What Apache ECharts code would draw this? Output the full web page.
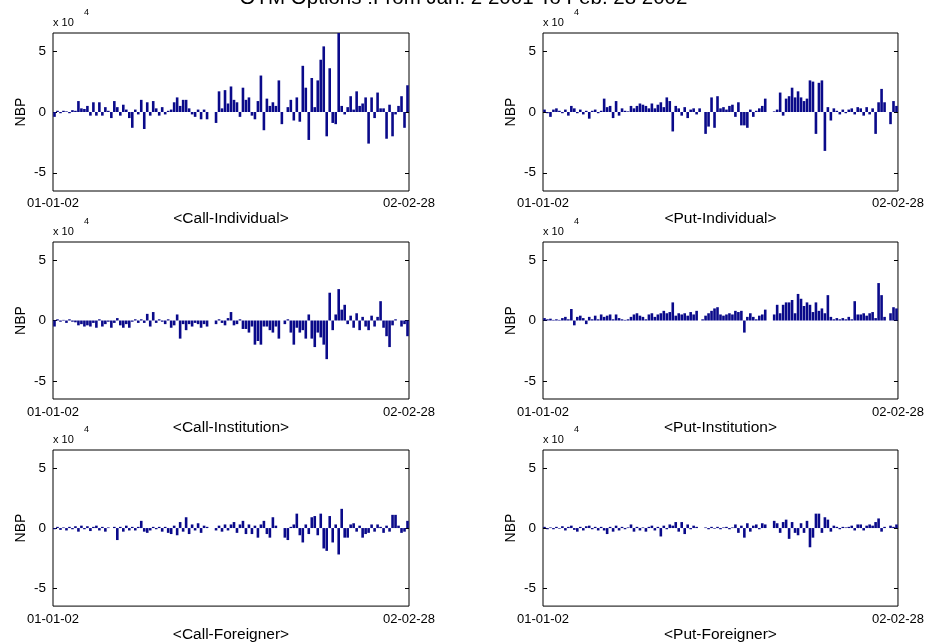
<!DOCTYPE html>
<html><head><meta charset="utf-8">
<script src="https://cdn.jsdelivr.net/npm/echarts@6/dist/echarts.min.js"></script>
<style>html,body{margin:0;padding:0;background:#fff}#c{width:927px;height:644px}</style>
</head><body><div id="c"></div>
<script>
const chartTitle = 'OTM Options :From Jan. 2 2001 To Feb. 28 2002';
const panelNames = ['<Call-Individual>', '<Put-Individual>', '<Call-Institution>', '<Put-Institution>', '<Call-Foreigner>', '<Put-Foreigner>'];
const yAxisName = 'NBP';
const xTickLabels = ['01-01-02', '02-02-28'];
const yTickValues = [-5, 0, 5];
const yScaleBase = 'x 10';
const yScaleExp = '4';

// values in units of 10^4
const callIndividual = [
-0.4,0.1,-0.1,0.1,0.05,-0.1,0.15,0.1,0.9,0.3,
0.25,0.5,-0.3,0.8,-0.3,0.8,-0.3,0.4,0.1,-0.5,
0.9,0.4,-0.3,0.6,0.2,-0.5,-1.3,0.2,-0.2,1.0,
-1.4,0.8,-0.3,0.9,0.3,-0.3,0.4,-0.2,0.1,0.2,
0.8,1.2,0.5,1.0,1.0,0.3,-0.2,-0.4,0.2,-0.6,
0.2,-0.6,0,0,-0.9,1.7,0.3,1.8,0.7,2.1,
1.0,0.8,-0.4,2.0,1.0,1.2,-0.3,-0.6,0.9,3.0,
-1.5,1.1,0.5,0.8,0.5,2.6,-1.0,0,0.4,1.0,
-0.7,1.2,-0.8,3.8,2.0,-2.3,2.8,0.4,2.6,4.3,
5.4,-2.0,3.6,-0.9,-1.0,6.5,0.5,-0.2,0.4,1.3,
0.2,1.7,0.5,0.7,1.2,-2.6,1.2,-0.5,1.6,0.3,
0.3,-2.2,0.6,-2.0,-0.2,0.5,1.3,-1.3,2.2];
const putIndividual = [
0.2,-0.1,-0.4,0.2,0.3,0.1,-0.1,0.2,-0.3,0.5,
0.3,-0.1,0.2,-0.2,0.1,-0.55,0.1,0.2,-0.1,0.1,
1.1,0.4,0.5,-0.5,0.9,-0.3,0.3,0.1,0.05,0.5,
0.3,0.5,0.7,0.6,0.5,0.3,0.7,0.3,0.6,0.8,
0.4,1.2,0.9,-1.6,0.5,0.3,-0.3,0.4,-0.5,0.2,
0.3,-0.2,0.3,0,-1.8,-1.2,1.2,-1.3,1.3,0.3,
0.4,0.2,0.5,0.6,-0.4,0.8,-1.1,-1.1,-1.3,0.2,
-0.4,0.1,0.3,0.5,1.1,0,0,0.05,0.2,1.6,
-0.3,1.1,1.3,2.0,1.2,1.7,1.2,0.9,1.1,2.6,
2.5,-1.8,2.4,2.6,-3.2,0.4,-0.7,0.3,0.1,-0.2,
0.2,-0.1,0.2,0.3,-0.2,0.4,0.3,-0.3,0.4,-0.2,
0.3,-1.8,0.8,1.9,0.8,0,-1.0,0.9,0.5];
const callInstitution = [
-0.5,0.1,-0.1,0.05,-0.2,0.1,-0.1,-0.15,-0.4,-0.3,
-0.5,-0.4,-0.5,-0.2,-0.6,0.1,-0.5,-0.3,-0.1,-0.6,
-0.2,0.2,-0.4,-0.6,-0.3,-0.6,-0.1,0.1,-0.2,0.1,
-0.2,0.55,-0.5,0.7,-0.2,0.1,-0.1,-0.3,0.1,-0.6,
-0.4,0.5,-1.5,-0.3,-0.8,-0.3,-0.5,-0.2,-0.3,-0.6,
-0.3,-0.5,0,0,-0.3,0.1,-0.2,-0.4,0.2,0.7,
-0.4,-0.3,0.1,-0.7,-0.7,-1.0,-0.5,-2.0,-1.7,-2.0,
-0.5,-0.5,-0.8,-1.0,-0.5,-1.5,0,-0.3,0.1,-1.0,
-2.0,-0.6,-1.0,-0.8,-1.5,0.5,-1.5,-2.2,-1.0,-1.4,
-2.0,-3.2,2.3,-0.8,0.5,2.6,0.9,1.3,-0.3,0.4,
-0.6,0.6,-0.8,0.3,-0.5,-0.8,0.4,-0.5,0.3,1.6,
-0.6,-1.3,-2.2,-0.4,0.1,0,-0.5,-0.3,-1.3];
const putInstitution = [
0.2,0.1,0.15,0.05,0.1,0.05,0.2,0.3,0.1,0.95,
-0.4,0.3,0.4,0.2,-0.3,0.3,0.1,0.4,0.1,0.5,
0.3,0.4,0.5,0.1,0.5,0.2,0.1,0.05,0.1,0.3,
0.5,0.6,0.4,0.3,0.1,0.5,0.6,0.3,0.5,0.6,
0.8,0.6,0.7,1.5,0.4,0.6,0.5,0.6,0.4,0.7,
0.5,0.8,0,0.1,0.4,0.6,0.8,1.0,1.1,0.5,
0.4,0.5,0.6,0.5,0.8,0.7,0.8,-1.0,0.3,0.6,
0.3,0.1,0.4,0.5,0.9,0,0,0.5,1.3,0.6,
1.3,1.5,1.5,1.7,0.6,2.2,1.8,1.2,1.5,1.3,
0.7,1.5,0.8,1.0,0.6,2.1,0.3,0.1,0.2,0.1,
0.2,0.1,0.3,0.1,1.6,0.5,0.5,0.6,0.4,0.6,
0.7,0.2,3.1,2.1,0.3,0,0.6,1.1,1.0];
const callForeigner = [
-0.1,0.1,-0.15,0.05,-0.2,0.1,-0.1,0.15,-0.3,0.2,
-0.1,0.15,-0.25,0.1,0.2,-0.2,0.1,-0.3,0.05,0,
0.1,-1.0,0.1,-0.3,0.2,-0.2,0.1,-0.2,0.1,0.6,
-0.3,-0.4,-0.2,0.1,-0.1,0.1,-0.3,0.1,-0.4,-0.5,
0.2,-0.6,0.5,-0.3,0.9,-0.5,0.3,-0.2,0.4,-0.4,
0.2,0.1,0,0,-0.2,0.2,-0.3,0.3,-0.2,0.3,
0.5,-0.4,0.3,0.6,-0.5,0.3,-0.5,0.2,-0.8,0.3,
0.6,-0.5,-0.8,0.9,0.2,0,0,-0.8,-1.0,0.1,
0.3,1.2,-0.6,-1.2,0.3,-0.5,0.9,1.0,-0.6,1.2,
-1.7,-1.9,1.0,-1.2,0.3,-2.2,1.6,-0.8,-0.8,0.3,
0.4,-0.3,0.2,-0.8,-0.5,-0.4,0.3,-0.3,0.3,0.1,
-0.4,0.2,-0.3,1.1,1.1,0.2,-0.4,-0.3,0.6];
const putForeigner = [
0.1,-0.1,0.05,-0.1,0.1,-0.05,0.15,-0.2,0.1,0.2,
-0.15,-0.3,0.1,-0.2,0.15,0.2,-0.1,0.1,-0.2,0.1,
-0.2,-0.5,0.1,-0.3,0.2,-0.2,0.1,-0.1,0.05,0.3,
-0.3,0.1,-0.2,0.05,-0.3,0.1,0.2,-0.2,0.1,-0.7,
0.2,-0.1,0.3,0.2,0.5,-0.3,0.5,-0.5,0.3,-0.1,
0.2,0.1,0,0,0.05,-0.1,0.1,-0.05,0.1,-0.1,
0.05,0.1,-0.1,0.05,0.3,-0.4,0.2,-0.8,0.4,-0.3,
0.2,0.3,-0.1,0.4,0.3,0,0,0.6,0.4,-0.4,
0.5,0.7,-0.9,0.5,-0.4,-0.6,0.4,-0.4,0.6,-1.6,
-0.8,1.2,1.2,-0.4,0.9,0.7,-0.3,0.2,0.1,-0.1,
0.1,0.05,0.1,0.2,-0.2,0.3,0.3,-0.2,0.2,0.3,
0.2,0.5,0.8,-0.3,0.1,0,0.2,0.1,0.3];

const seriesValues = [callIndividual, putIndividual, callInstitution, putInstitution, callForeigner, putForeigner];

const FONT = 'Liberation Sans';
const BAR = '#0a0a8a';
const colLeft = [53, 543], colWidth = [356, 358];
const rowTop = [33, 242, 450], rowHeight = [158, 157, 157];
const labelMargin = [6, 7, 7];
const nameGapRow = [11, 15, 15];
const YMIN = -6.5, YMAX = 6.5;

const grids = [], xAxes = [], yAxes = [], series = [], graphics = [];
seriesValues.forEach((vals, k) => {
  const r = Math.floor(k / 2), c = k % 2;
  const N = vals.length;
  grids.push({left: colLeft[c], top: rowTop[r], width: colWidth[c], height: rowHeight[r],
    show: true, borderColor: '#000', borderWidth: 1, backgroundColor: '#fff', containLabel: false});
  xAxes.push({type: 'value', gridIndex: k, min: 0, max: N, interval: N,
    axisLine: {show: false}, axisTick: {show: false}, splitLine: {show: false},
    axisLabel: {color: '#000', fontFamily: FONT, fontSize: 13, margin: labelMargin[r],
      showMinLabel: true, showMaxLabel: true,
      formatter: v => v === 0 ? xTickLabels[0] : (v === N ? xTickLabels[1] : '')},
    name: panelNames[k], nameLocation: 'middle', nameGap: nameGapRow[r],
    nameTextStyle: {color: '#000', fontFamily: FONT, fontSize: 15.5}});
  const tickCommon = {show: true, inside: true, length: 4, lineStyle: {color: '#000'}, customValues: yTickValues};
  yAxes.push({type: 'value', gridIndex: k, min: YMIN, max: YMAX, position: 'left',
    axisLine: {show: false}, splitLine: {show: false}, axisTick: tickCommon,
    axisLabel: {color: '#000', fontFamily: FONT, fontSize: 13.5, margin: 7, customValues: yTickValues,
      formatter: v => String(v)},
    name: yAxisName, nameLocation: 'middle', nameGap: 25, nameRotate: 90,
    nameTextStyle: {color: '#000', fontFamily: FONT, fontSize: 14}});
  yAxes.push({type: 'value', gridIndex: k, min: YMIN, max: YMAX, position: 'right',
    axisLine: {show: false}, splitLine: {show: false}, axisTick: tickCommon,
    axisLabel: {show: false}});
  series.push({type: 'bar', xAxisIndex: k, yAxisIndex: 2 * k, barWidth: 2.6, clip: true,
    itemStyle: {color: BAR}, silent: true, animation: false,
    data: vals.map((v, i) => [i + 0.5, v])});
  graphics.push({type: 'text', left: colLeft[c], top: rowTop[r] - 16,
    style: {text: yScaleBase, font: '11px "' + FONT + '"', fill: '#000'}});
  graphics.push({type: 'text', left: colLeft[c] + 31, top: rowTop[r] - 25,
    style: {text: yScaleExp, font: '9px "' + FONT + '"', fill: '#000'}});
});
graphics.push({type: 'text', left: 'center', top: -12,
  style: {text: chartTitle, font: '20.5px "' + FONT + '"', fill: '#000'}});

const chart = echarts.init(document.getElementById('c'), null, {renderer: 'canvas'});
chart.setOption({animation: false, backgroundColor: '#fff', grid: grids, xAxis: xAxes, yAxis: yAxes, series: series, graphic: graphics});
</script></body></html>
